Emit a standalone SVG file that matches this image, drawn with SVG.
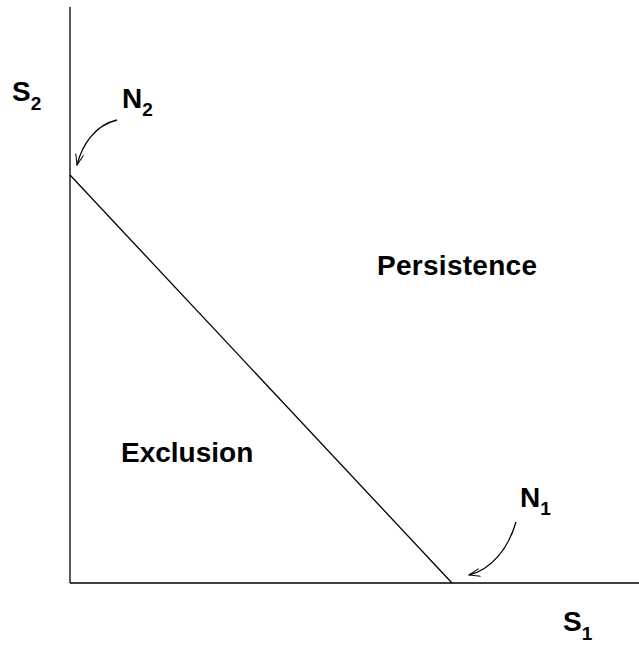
<svg xmlns="http://www.w3.org/2000/svg" width="639" height="646" viewBox="0 0 639 646">
<style>
text{font-family:"Liberation Sans",Arial,sans-serif;font-weight:bold;fill:#000}
.lab{font-size:28px}
.sub{font-size:19px}
.reg{font-size:28px}
.ln{stroke:#000;stroke-width:1.3;fill:none}
</style>
<defs>
<marker id="ah" viewBox="0 0 12 10" refX="11" refY="5" markerWidth="12" markerHeight="10" markerUnits="userSpaceOnUse" orient="auto">
<path d="M0,1 L11,5 L0,9" fill="none" stroke="#000" stroke-width="1"/>
</marker>
</defs>
<g id="axes">
<line class="ln" x1="70" y1="7" x2="70" y2="583"/>
<line class="ln" x1="70" y1="583" x2="639" y2="583"/>
</g>
<g id="connectors">
<line class="ln" x1="70" y1="175" x2="452" y2="583"/>
<path class="ln" d="M117,120 C95,125 82,145 77,165" marker-end="url(#ah)"/>
<path class="ln" d="M516,522 C508,550 490,570 469,575" marker-end="url(#ah)"/>
</g>
<g id="S2"><text class="lab" x="12" y="101">S<tspan class="sub" dy="9">2</tspan></text></g>
<g id="N2"><text class="lab" x="122" y="108">N<tspan class="sub" dy="8">2</tspan></text></g>
<g id="N1"><text class="lab" x="520" y="507">N<tspan class="sub" dy="8">1</tspan></text></g>
<g id="S1"><text class="lab" x="563" y="631">S<tspan class="sub" dy="9">1</tspan></text></g>
<g id="persistence"><text class="reg" x="377" y="275" textLength="160" lengthAdjust="spacing">Persistence</text></g>
<g id="exclusion"><text class="reg" x="121" y="462">Exclusion</text></g>
</svg>
